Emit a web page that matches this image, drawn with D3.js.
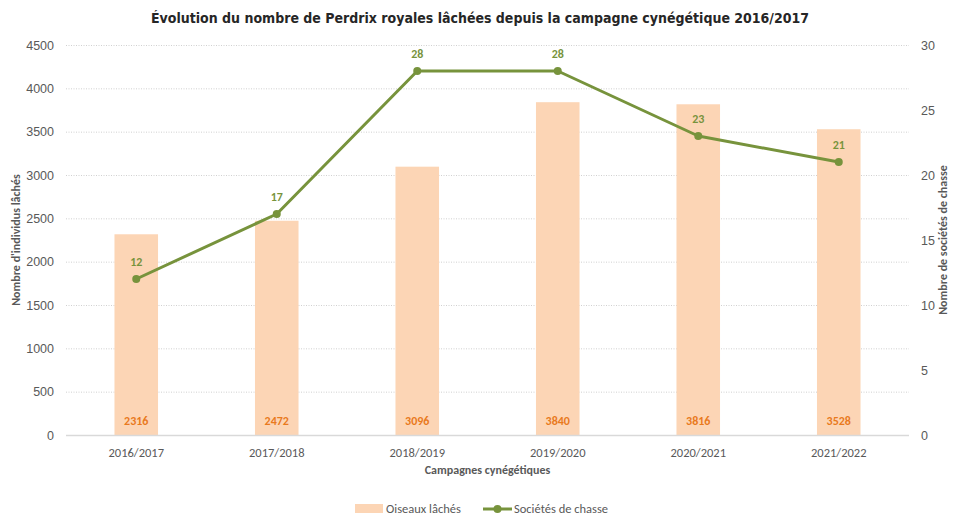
<!DOCTYPE html>
<html>
<head>
<meta charset="utf-8">
<script src="https://cdn.jsdelivr.net/npm/d3@7"></script>
<style>
  body { margin: 0; background: #fff; }
  svg { display: block; font-family: Carlito, Calibri, Lato, sans-serif; }
</style>
</head>
<body>
<svg width="954" height="515"></svg>
<script>
// data
const campagnes = ["2016/2017", "2017/2018", "2018/2019", "2019/2020", "2020/2021", "2021/2022"];
const oiseaux = [2316, 2472, 3096, 3840, 3816, 3528];
const societes = [12, 17, 28, 28, 23, 21];
const leftTicks = [0, 500, 1000, 1500, 2000, 2500, 3000, 3500, 4000, 4500];
const rightTicks = [0, 5, 10, 15, 20, 25, 30];

const barColor = "#FCD5B5";
const lineColor = "#77933C";
const textGrey = "#595959";

const width = 954, height = 515;
const margin = { left: 66, right: 45, top: 45, bottom: 80 };

const svg = d3.select("svg");

const x = d3.scaleBand()
    .domain(campagnes)
    .range([margin.left, width - margin.right])
    .paddingInner(0.69)
    .paddingOuter(0.345);

const y = d3.scaleLinear().domain([0, 4500]).range([height - margin.bottom, margin.top]);
const y2 = d3.scaleLinear().domain([0, 30]).range([height - margin.bottom, margin.top]);

// title
svg.append("text")
    .attr("x", 480).attr("y", 23)
    .attr("text-anchor", "middle")
    .style("font-family", "'DejaVu Sans Condensed', 'DejaVu Sans', sans-serif")
    .style("font-weight", "bold")
    .style("font-size", "14px")
    .attr("fill", "#262626")
    .text("Évolution du nombre de Perdrix royales lâchées depuis la campagne cynégétique 2016/2017");

// gridlines
svg.append("g")
    .selectAll("line")
    .data(leftTicks.filter(d => d > 0))
    .join("line")
    .attr("x1", margin.left).attr("x2", width - margin.right)
    .attr("y1", d => y(d) + 0.5).attr("y2", d => y(d) + 0.5)
    .attr("stroke", "#d0d0d0")
    .attr("stroke-dasharray", "1,1.5");

// left axis
const yAxis = svg.append("g")
    .attr("transform", `translate(${margin.left - 12},0)`)
    .call(d3.axisLeft(y).tickValues(leftTicks).tickFormat(d3.format("d")).tickSize(0).tickPadding(0));
yAxis.select(".domain").remove();
yAxis.selectAll("text").attr("fill", textGrey).style("font-size", "12.5px");

// right axis
const yAxis2 = svg.append("g")
    .attr("transform", `translate(${width - margin.right + 12},0)`)
    .call(d3.axisRight(y2).tickValues(rightTicks).tickFormat(d3.format("d")).tickSize(0).tickPadding(0));
yAxis2.select(".domain").remove();
yAxis2.selectAll("text").attr("fill", textGrey).style("font-size", "12.5px");

// bars
svg.append("g")
    .selectAll("rect")
    .data(oiseaux)
    .join("rect")
    .attr("x", (d, i) => x(campagnes[i]))
    .attr("width", x.bandwidth())
    .attr("y", d => y(d))
    .attr("height", d => y(0) - y(d))
    .attr("fill", barColor);

// baseline
svg.append("line")
    .attr("x1", margin.left).attr("x2", width - margin.right)
    .attr("y1", y(0) + 0.5).attr("y2", y(0) + 0.5)
    .attr("stroke", "#d9d9d9").attr("stroke-width", 1.5);

// bar labels
svg.append("g")
    .selectAll("text")
    .data(oiseaux)
    .join("text")
    .attr("x", (d, i) => x(campagnes[i]) + x.bandwidth() / 2)
    .attr("y", y(0) - 10)
    .attr("text-anchor", "middle")
    .attr("fill", "#E97A1E")
    .style("font-weight", "bold")
    .style("font-size", "12px")
    .text(d => d);

// x labels
svg.append("g")
    .selectAll("text")
    .data(campagnes)
    .join("text")
    .attr("x", d => x(d) + x.bandwidth() / 2)
    .attr("y", y(0) + 22)
    .attr("text-anchor", "middle")
    .attr("fill", textGrey)
    .style("font-size", "12.5px")
    .text(d => d);

// line
const line = d3.line()
    .x((d, i) => x(campagnes[i]) + x.bandwidth() / 2)
    .y(d => y2(d));

svg.append("path")
    .datum(societes)
    .attr("d", line)
    .attr("fill", "none")
    .attr("stroke", lineColor)
    .attr("stroke-width", 3)
    .attr("stroke-linejoin", "round");

svg.append("g")
    .selectAll("circle")
    .data(societes)
    .join("circle")
    .attr("cx", (d, i) => x(campagnes[i]) + x.bandwidth() / 2)
    .attr("cy", d => y2(d))
    .attr("r", 4)
    .attr("fill", lineColor);

svg.append("g")
    .selectAll("text")
    .data(societes)
    .join("text")
    .attr("x", (d, i) => x(campagnes[i]) + x.bandwidth() / 2)
    .attr("y", d => y2(d) - 13)
    .attr("text-anchor", "middle")
    .attr("fill", lineColor)
    .style("font-weight", "bold")
    .style("font-size", "12px")
    .text(d => d);

// axis titles
svg.append("text")
    .attr("x", (margin.left + width - margin.right) / 2)
    .attr("y", 474)
    .attr("text-anchor", "middle")
    .attr("fill", textGrey)
    .style("font-weight", "bold")
    .style("font-size", "12px")
    .text("Campagnes cynégétiques");

svg.append("text")
    .attr("transform", `translate(20,${(y(0) + y(4500)) / 2}) rotate(-90)`)
    .attr("text-anchor", "middle")
    .attr("fill", textGrey)
    .style("font-weight", "bold")
    .style("font-size", "12px")
    .text("Nombre d'individus lâchés");

svg.append("text")
    .attr("transform", `translate(947,${(y(0) + y(4500)) / 2}) rotate(-90)`)
    .attr("text-anchor", "middle")
    .attr("fill", textGrey)
    .style("font-weight", "bold")
    .style("font-size", "12px")
    .text("Nombre de sociétés de chasse");

// legend
const legend = svg.append("g").attr("transform", "translate(0,509)");
legend.append("rect")
    .attr("x", 355).attr("y", -5).attr("width", 28).attr("height", 9)
    .attr("fill", barColor);
legend.append("text")
    .attr("x", 386).attr("y", 4)
    .attr("fill", textGrey)
    .style("font-size", "12.5px")
    .text("Oiseaux lâchés");
legend.append("line")
    .attr("x1", 483).attr("x2", 512).attr("y1", 0).attr("y2", 0)
    .attr("stroke", lineColor).attr("stroke-width", 3);
legend.append("circle")
    .attr("cx", 497.5).attr("cy", 0).attr("r", 4)
    .attr("fill", lineColor);
legend.append("text")
    .attr("x", 514).attr("y", 4)
    .attr("fill", textGrey)
    .style("font-size", "12.5px")
    .text("Sociétés de chasse");
</script>
</body>
</html>
